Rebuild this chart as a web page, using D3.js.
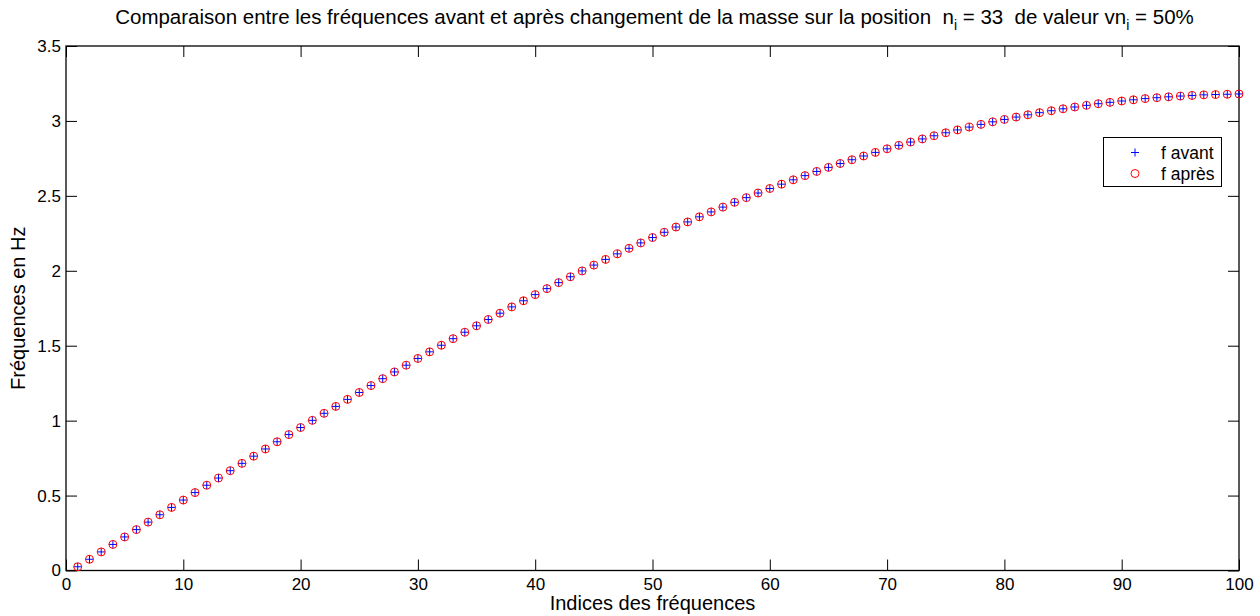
<!DOCTYPE html>
<html>
<head>
<meta charset="utf-8">
<script src="https://cdn.jsdelivr.net/npm/d3@7"></script>
<style>
  html, body { margin: 0; padding: 0; background: #fff; }
  svg { display: block; font-family: "Liberation Sans", Arial, Helvetica, sans-serif; }
  text { white-space: pre; }
</style>
</head>
<body>
<svg id="chart" width="1260" height="616"></svg>
<script>
// Frequency indices 1..100
const indices = d3.range(1, 101);
// Frequencies before the mass change (Hz)
const fAvant = [
  0.025, 0.075, 0.124, 0.174, 0.224, 0.273, 0.323, 0.372, 0.421, 0.470,
  0.520, 0.569, 0.617, 0.666, 0.715, 0.763, 0.811, 0.859, 0.907, 0.954,
  1.002, 1.049, 1.095, 1.142, 1.188, 1.234, 1.280, 1.325, 1.370, 1.415,
  1.459, 1.503, 1.547, 1.590, 1.633, 1.675, 1.717, 1.759, 1.800, 1.841,
  1.881, 1.921, 1.960, 1.999, 2.038, 2.076, 2.113, 2.150, 2.186, 2.222,
  2.257, 2.292, 2.326, 2.360, 2.393, 2.425, 2.457, 2.488, 2.519, 2.549,
  2.578, 2.607, 2.635, 2.663, 2.690, 2.716, 2.741, 2.766, 2.790, 2.814,
  2.837, 2.859, 2.880, 2.901, 2.921, 2.940, 2.959, 2.977, 2.994, 3.010,
  3.026, 3.041, 3.055, 3.068, 3.081, 3.093, 3.104, 3.115, 3.124, 3.133,
  3.141, 3.149, 3.155, 3.161, 3.166, 3.170, 3.174, 3.176, 3.178, 3.180
];
// Frequencies after the mass change (Hz), visually identical in the picture
const fApres = [
  0.025, 0.075, 0.124, 0.174, 0.224, 0.273, 0.323, 0.372, 0.421, 0.470,
  0.520, 0.569, 0.617, 0.666, 0.715, 0.763, 0.811, 0.859, 0.907, 0.954,
  1.002, 1.049, 1.095, 1.142, 1.188, 1.234, 1.280, 1.325, 1.370, 1.415,
  1.459, 1.503, 1.547, 1.590, 1.633, 1.675, 1.717, 1.759, 1.800, 1.841,
  1.881, 1.921, 1.960, 1.999, 2.038, 2.076, 2.113, 2.150, 2.186, 2.222,
  2.257, 2.292, 2.326, 2.360, 2.393, 2.425, 2.457, 2.488, 2.519, 2.549,
  2.578, 2.607, 2.635, 2.663, 2.690, 2.716, 2.741, 2.766, 2.790, 2.814,
  2.837, 2.859, 2.880, 2.901, 2.921, 2.940, 2.959, 2.977, 2.994, 3.010,
  3.026, 3.041, 3.055, 3.068, 3.081, 3.093, 3.104, 3.115, 3.124, 3.133,
  3.141, 3.149, 3.155, 3.161, 3.166, 3.170, 3.174, 3.176, 3.178, 3.180
];
const xTicks = [0, 10, 20, 30, 40, 50, 60, 70, 80, 90, 100];
const yTicks = [0, 0.5, 1, 1.5, 2, 2.5, 3, 3.5];
const yTickLabels = ["0", "0.5", "1", "1.5", "2", "2.5", "3", "3.5"];
const legendLabels = ["f avant", "f après"];

const svg = d3.select("#chart");
const L = 66, R = 1239, T = 46, B = 570.5;
const x = d3.scaleLinear().domain([0, 100]).range([L, R]);
const y = d3.scaleLinear().domain([0, 3.5]).range([B, T]);
const TICK = 11;

// Axes (bottom, left) with inward ticks
const xAxis = d3.axisBottom(x).tickValues(xTicks).tickSizeInner(-TICK).tickSizeOuter(0).tickPadding(7).tickFormat(d3.format("d"));
const yAxis = d3.axisLeft(y).tickValues(yTicks).tickSizeInner(-TICK).tickSizeOuter(0).tickPadding(5).tickFormat((d, i) => yTickLabels[i]);
const xTop = d3.axisTop(x).tickValues(xTicks).tickSizeInner(-TICK).tickSizeOuter(0).tickFormat("");
const yRight = d3.axisRight(y).tickValues(yTicks).tickSizeInner(-TICK).tickSizeOuter(0).tickFormat("");

function styleAxis(g) {
  g.select(".domain").remove();
  g.selectAll(".tick line").attr("stroke", "#000").attr("stroke-width", 1);
  g.selectAll(".tick text").attr("fill", "#000").attr("font-size", 17).attr("font-family", "Liberation Sans, Arial, sans-serif");
}
svg.append("g").attr("transform", `translate(0,${B})`).call(xAxis).call(styleAxis);
svg.append("g").attr("transform", `translate(${L},0)`).call(yAxis).call(styleAxis);
svg.append("g").attr("transform", `translate(0,${T})`).call(xTop).call(styleAxis);
svg.append("g").attr("transform", `translate(${R},0)`).call(yRight).call(styleAxis);

// Box
svg.append("rect").attr("x", L).attr("y", T).attr("width", R - L).attr("height", B - T)
  .attr("fill", "none").attr("stroke", "#000").attr("stroke-width", 1.3);

// Markers: f avant (blue plus)
const P = 4;
const plusPath = `M${-P},0H${P}M0,${-P}V${P}`;
svg.append("g").selectAll("path").data(indices).join("path")
  .attr("transform", (d, i) => `translate(${x(d)},${y(fAvant[i])})`)
  .attr("d", plusPath).attr("stroke", "#0000ff").attr("stroke-width", 1).attr("fill", "none");
// f après (red circle)
svg.append("g").selectAll("circle").data(indices).join("circle")
  .attr("cx", d => x(d)).attr("cy", (d, i) => y(fApres[i])).attr("r", 4)
  .attr("stroke", "#ff0000").attr("stroke-width", 1).attr("fill", "none");

// Title
const title = svg.append("text").attr("x", (L + R) / 2 + 2).attr("y", 24).attr("text-anchor", "middle")
  .attr("font-size", 20.5).attr("fill", "#000");
title.append("tspan").text("Comparaison entre les fréquences avant et après changement de la masse sur la position  n");
title.append("tspan").attr("dy", 6).attr("font-size", 14).text("i");
title.append("tspan").attr("dy", -6).text(" = 33  de valeur vn");
title.append("tspan").attr("dy", 6).attr("font-size", 14).text("i");
title.append("tspan").attr("dy", -6).text(" = 50%");

// Axis labels
svg.append("text").attr("x", (L + R) / 2).attr("y", 610).attr("text-anchor", "middle")
  .attr("font-size", 20).attr("fill", "#000").text("Indices des fréquences");
svg.append("text").attr("transform", `translate(24.5,${(T + B) / 2}) rotate(-90)`).attr("text-anchor", "middle")
  .attr("font-size", 20).attr("fill", "#000").text("Fréquences en Hz");

// Legend
const lg = svg.append("g");
lg.append("rect").attr("x", 1103.5).attr("y", 137.5).attr("width", 118).attr("height", 49)
  .attr("fill", "#fff").attr("stroke", "#000").attr("stroke-width", 1);
lg.append("path").attr("transform", "translate(1135,152.5)").attr("d", plusPath)
  .attr("stroke", "#0000ff").attr("stroke-width", 1);
lg.append("circle").attr("cx", 1135).attr("cy", 173.5).attr("r", 4)
  .attr("stroke", "#ff0000").attr("fill", "none").attr("stroke-width", 1);
lg.selectAll("text.lbl").data(legendLabels).join("text").attr("class", "lbl")
  .attr("x", 1161).attr("y", (d, i) => 158.5 + i * 21).attr("font-size", 17.5).attr("fill", "#000").text(d => d);
</script>
</body>
</html>
